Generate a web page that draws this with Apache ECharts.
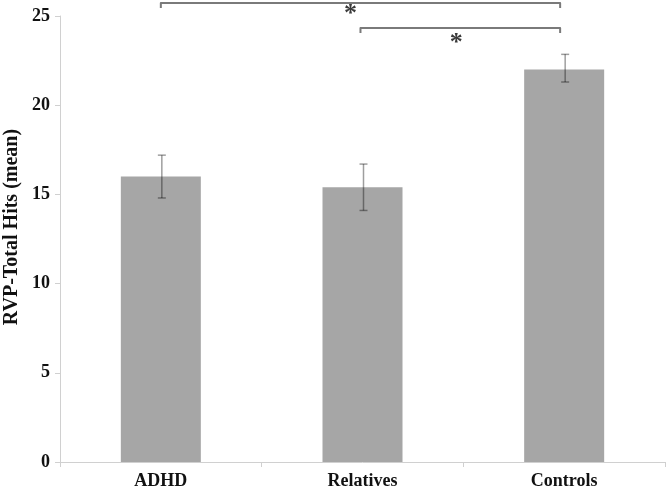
<!DOCTYPE html>
<html><head><meta charset="utf-8">
<script src="https://cdn.jsdelivr.net/npm/echarts@6/dist/echarts.min.js"></script>
<style>html,body{margin:0;padding:0;background:#fff}#c{width:666px;height:490px}</style>
</head><body><div id="c"></div>
<script>
const categories = ['ADHD', 'Relatives', 'Controls'];
const means = [16.0, 15.4, 22.0];
const errLow = [14.8, 14.1, 21.3];
const errHigh = [17.2, 16.7, 22.85];
const yTicks = [0, 5, 10, 15, 20, 25];
const yTitle = 'RVP-Total Hits (mean)';
// significance brackets: [from category offset, to category offset, y level, tick end y]
const brackets = [[0, 1.98, 25.73, 25.45], [0.99, 1.98, 24.33, 24.05]];
const stars = [[0.94, 25.1], [1.465, 23.45]];

const font = '"Liberation Serif", "Times New Roman", serif';
const chart = echarts.init(document.getElementById('c'));
chart.setOption({
  animation: false,
  grid: {left: 60, right: 1, top: 16, bottom: 28, outerBoundsMode: 'none', containLabel: false},
  xAxis: {
    type: 'category', data: categories,
    axisLine: {lineStyle: {color: '#d0d0d0'}},
    axisTick: {show: true, length: 5, lineStyle: {color: '#d0d0d0'}},
    axisLabel: {show: false}
  },
  yAxis: {
    type: 'value', min: 0, max: 25, interval: 5,
    splitLine: {show: false},
    axisLine: {show: true, lineStyle: {color: '#d0d0d0'}},
    axisTick: {show: true, length: 5, lineStyle: {color: '#d0d0d0'}},
    axisLabel: {show: false}
  },
  series: [
    {type: 'bar', data: means, barWidth: 80, itemStyle: {color: '#a6a6a6'}, z: 2},
    {type: 'custom', z: 3,
      data: categories.map((c, i) => [i, errLow[i], errHigh[i]]),
      renderItem: function (params, api) {
        const lo = api.coord([api.value(0), api.value(1)]);
        const hi = api.coord([api.value(0), api.value(2)]);
        const x = lo[0] + 1, w = 4;
        const st = {stroke: 'rgba(0,0,0,0.38)', lineWidth: 1.5};
        return {type: 'group', children: [
          {type: 'line', shape: {x1: x, y1: lo[1], x2: x, y2: hi[1]}, style: st},
          {type: 'line', shape: {x1: x - w, y1: lo[1], x2: x + w, y2: lo[1]}, style: st},
          {type: 'line', shape: {x1: x - w, y1: hi[1], x2: x + w, y2: hi[1]}, style: st}
        ]};
      }
    },
    {type: 'custom', z: 3, clip: false,
      data: brackets,
      renderItem: function (params, api) {
        const a = api.coord([0, api.value(2)]), b = api.coord([1, api.value(2)]);
        const step = b[0] - a[0];
        const x1 = a[0] + api.value(0) * step, x2 = a[0] + api.value(1) * step;
        const y = a[1], y2 = api.coord([0, api.value(3)])[1];
        return {type: 'polyline', shape: {points: [[x1, y2], [x1, y], [x2, y], [x2, y2]]},
          style: {stroke: '#7a7a7a', lineWidth: 2, fill: null, lineJoin: 'round'}};
      }
    },
    {type: 'custom', z: 3, clip: false,
      data: stars,
      renderItem: function (params, api) {
        const a = api.coord([0, api.value(1)]), b = api.coord([1, api.value(1)]);
        const x = a[0] + api.value(0) * (b[0] - a[0]);
        return {type: 'text', x: x, y: a[1], style: {text: '*', align: 'center', verticalAlign: 'middle',
          font: 'bold 26px "Liberation Serif"', fill: '#3a3a3a'}};
      }
    },
    // x category labels
    {type: 'custom', z: 4, clip: false,
      data: categories.map((c, i) => [i]),
      renderItem: function (params, api) {
        const p = api.coord([api.value(0), 0]);
        return {type: 'text', x: p[0], y: p[1] + 19,
          style: {text: categories[params.dataIndex], align: 'center', verticalAlign: 'middle',
            font: 'bold 18px ' + font, fill: '#111'}};
      }
    },
    // y tick labels
    {type: 'custom', z: 4, clip: false,
      data: yTicks.map(v => [0, v]),
      renderItem: function (params, api) {
        const p = api.coord([0, api.value(1)]);
        const cs = params.coordSys;
        return {type: 'text', x: cs.x - 10, y: p[1],
          style: {text: String(yTicks[params.dataIndex]), align: 'right', verticalAlign: 'middle',
            font: 'bold 18px ' + font, fill: '#111'}};
      }
    },
    // y axis title
    {type: 'custom', z: 4, clip: false,
      data: [[0, 13.17]],
      renderItem: function (params, api) {
        const p = api.coord([0, api.value(1)]);
        const cs = params.coordSys;
        return {type: 'text', x: cs.x - 48, y: p[1], rotation: Math.PI / 2,
          style: {text: yTitle, align: 'center', verticalAlign: 'middle',
            font: 'bold 20px ' + font, fill: '#111'}};
      }
    }
  ]
});
</script></body></html>
